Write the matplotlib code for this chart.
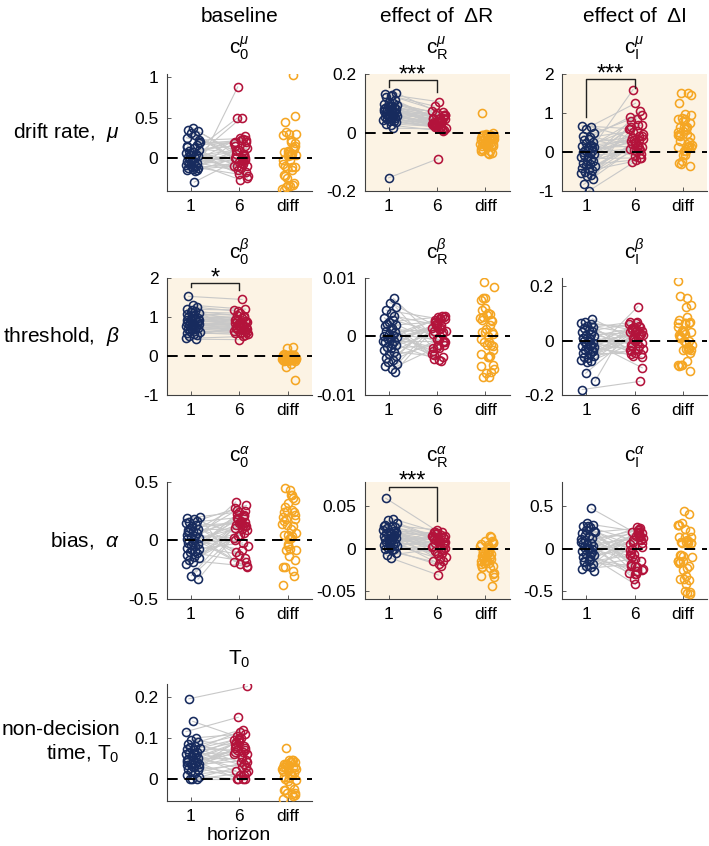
import numpy as np
import matplotlib.pyplot as plt

plt.rcParams["font.family"] = ["Liberation Sans", "DejaVu Sans"]
plt.rcParams["mathtext.fontset"] = "custom"
plt.rcParams["mathtext.rm"] = "Liberation Sans"
plt.rcParams["mathtext.it"] = "Liberation Sans:italic"
plt.rcParams["axes.unicode_minus"] = False

# ---- data: one value per participant, horizon 1 and horizon 6 ----
drift_base_h1 = [0.37, 0.35, 0.33, 0.31, 0.28, 0.25, 0.22, -0.02, 0.04, 0.16,
                 0.14, 0.12, 0.10, 0.09, 0.07, 0.06, 0.05, 0.03, 0.02, 0.01,
                 0.00, -0.01, 0.20, -0.04, -0.05, -0.06, -0.08, -0.09, -0.10, -0.11,
                 -0.12, -0.13, -0.14, -0.15, -0.15, -0.16, -0.05, 0.18, 0.15, -0.30]
drift_base_h6 = [-0.03, 0.00, 0.02, -0.05, -0.10, 0.10, 0.24, 0.50, 0.49, 0.20,
                 -0.20, 0.05, 0.15, -0.25, 0.22, -0.15, 0.27, 0.00, -0.08, 0.12,
                 0.08, -0.12, 0.18, 0.00, 0.25, -0.18, 0.05, -0.02, 0.10, -0.22,
                 0.20, -0.06, 0.15, 0.88, -0.10, 0.03, -0.27, 0.22, -0.10, 0.00]

drift_R_h1 = [0.135, 0.130, 0.128, 0.125, 0.120, 0.110, 0.105, 0.100, 0.098, 0.095,
              0.092, 0.090, 0.088, 0.085, 0.082, 0.080, 0.078, 0.075, 0.072, 0.070,
              0.068, 0.065, 0.062, 0.060, 0.058, 0.055, 0.052, 0.050, 0.048, 0.045,
              0.042, 0.040, 0.038, 0.035, 0.030, 0.025, 0.070, 0.080, 0.015, -0.155]
drift_R_h6 = [0.060, 0.090, 0.105, 0.070, 0.050, 0.040, 0.065, 0.060, 0.035, 0.050,
              0.045, 0.030, 0.055, 0.040, 0.020, 0.045, 0.060, 0.035, 0.025, 0.050,
              0.030, 0.040, 0.045, 0.020, 0.035, 0.030, 0.040, 0.025, 0.010, 0.030,
              0.035, 0.020, 0.015, 0.025, 0.020, 0.005, 0.060, 0.075, 0.012, -0.090]

drift_I_h1 = [0.67, 0.65, 0.60, 0.48, 0.42, 0.38, 0.33, 0.30, 0.25, 0.22,
              0.18, 0.15, 0.12, 0.10, 0.06, 0.03, 0.00, -0.02, -0.05, -0.08,
              -0.10, -0.13, -0.17, -0.20, -0.23, -0.27, -0.30, -0.33, -0.36, -0.40,
              -0.43, -0.47, -0.50, -0.55, -0.58, -0.62, -0.70, -0.83, -1.00, 0.10]
drift_I_h6 = [0.60, 0.30, 1.25, 0.95, 0.20, 0.55, 0.05, 0.90, 0.40, -0.10,
              0.70, 0.28, 0.15, 0.85, 0.35, -0.05, 0.25, 0.10, 0.60, 0.45,
              0.02, 0.30, -0.15, 0.65, 0.18, 0.12, 0.50, -0.20, 0.08, 1.05,
              0.22, 0.40, -0.25, 0.70, 0.05, 0.33, 0.80, 0.15, -0.15, 1.60]

thresh_base_h1 = [1.53, 1.30, 1.25, 1.20, 1.15, 1.12, 1.10, 1.08, 1.05, 1.03,
                  1.00, 0.98, 0.96, 0.95, 0.93, 0.92, 0.90, 0.88, 0.86, 0.85,
                  0.83, 0.82, 0.80, 0.78, 0.77, 0.75, 0.73, 0.72, 0.70, 0.68,
                  0.65, 0.62, 0.60, 0.57, 0.55, 0.52, 0.45, 0.43, 1.18, 0.88]
thresh_base_h6 = [1.45, 1.20, 1.15, 1.18, 1.02, 1.10, 0.90, 1.05, 0.98, 0.90,
                  0.92, 1.00, 0.85, 0.88, 0.95, 0.80, 0.82, 0.90, 0.75, 0.80,
                  0.78, 0.85, 0.70, 0.75, 0.80, 0.65, 0.72, 0.68, 0.62, 0.70,
                  0.60, 0.65, 0.55, 0.60, 0.75, 0.74, 0.50, 0.42, 0.56, 0.60]

thresh_R_h1 = [0.0065, 0.0058, 0.0050, 0.0045, 0.0040, 0.0035, 0.0032, 0.0028, 0.0025, 0.0020,
               0.0018, 0.0015, 0.0012, 0.0010, 0.0007, 0.0005, 0.0003, 0.0001, -0.0001, -0.0003,
               -0.0005, -0.0008, -0.0010, -0.0012, -0.0015, -0.0018, -0.0020, -0.0023, -0.0026, -0.0030,
               -0.0033, -0.0036, -0.0040, -0.0044, -0.0047, -0.0050, -0.0055, -0.0060, 0.0022, -0.0008]
thresh_R_h6 = [-0.0005, 0.0010, -0.0020, 0.0030, -0.0010, 0.0020, -0.0030, 0.0005, 0.0033, -0.0015,
               0.0025, -0.0040, 0.0008, -0.0025, 0.0015, -0.0005, 0.0035, -0.0032, 0.0012, -0.0020,
               0.0028, -0.0008, 0.0018, -0.0042, 0.0005, 0.0030, -0.0015, 0.0022, -0.0035, 0.0010,
               0.0032, -0.0010, 0.0025, -0.0005, 0.0015, 0.0035, -0.0018, 0.0033, -0.0038, 0.0020]

thresh_I_h1 = [0.080, 0.070, 0.065, 0.060, 0.055, 0.050, 0.045, 0.040, 0.035, 0.030,
               0.025, 0.020, 0.015, 0.010, 0.005, 0.000, -0.003, -0.008, -0.012, -0.015,
               -0.020, -0.025, -0.030, -0.035, -0.040, -0.045, -0.050, -0.055, -0.060, -0.065,
               -0.070, -0.075, -0.080, -0.040, 0.010, -0.020, -0.120, -0.150, -0.180, 0.000]
thresh_I_h6 = [-0.010, 0.040, -0.030, 0.050, 0.020, -0.040, 0.070, -0.050, 0.010, 0.060,
               -0.020, 0.030, -0.060, 0.045, -0.010, 0.020, -0.035, 0.055, 0.000, 0.035,
               -0.050, 0.010, 0.040, -0.020, 0.025, -0.045, 0.015, 0.030, -0.030, 0.065,
               0.005, 0.050, -0.015, 0.125, -0.100, -0.055, 0.035, 0.070, -0.150, 0.000]

bias_base_h1 = [0.20, 0.19, 0.18, 0.17, 0.16, 0.15, 0.13, 0.12, 0.10, 0.09,
                0.08, 0.06, 0.05, 0.04, 0.03, 0.02, 0.01, 0.00, -0.01, -0.02,
                -0.03, -0.04, -0.05, -0.06, -0.07, -0.08, -0.10, -0.11, -0.12, -0.14,
                -0.15, -0.17, -0.18, -0.20, -0.27, -0.30, -0.33, 0.07, -0.09, 0.11]
bias_base_h6 = [-0.18, 0.25, 0.05, 0.30, -0.10, 0.20, 0.15, -0.05, 0.28, 0.10,
                -0.15, 0.18, 0.02, 0.22, -0.20, 0.12, 0.26, -0.08, 0.16, 0.00,
                0.21, -0.12, 0.09, 0.33, -0.02, 0.14, 0.19, -0.18, 0.24, 0.06,
                0.11, -0.22, 0.17, 0.04, 0.12, 0.13, 0.12, -0.23, 0.23, 0.15]

bias_R_h1 = [0.059, 0.035, 0.033, 0.030, 0.028, 0.027, 0.025, 0.024, 0.022, 0.021,
             0.020, 0.019, 0.018, 0.017, 0.016, 0.015, 0.014, 0.013, 0.012, 0.011,
             0.010, 0.009, 0.008, 0.007, 0.006, 0.005, 0.004, 0.003, 0.002, 0.001,
             0.000, -0.001, -0.002, -0.005, -0.008, -0.011, 0.026, 0.015, 0.009, 0.018]
bias_R_h6 = [0.015, 0.020, 0.010, 0.015, -0.005, 0.022, 0.008, 0.012, 0.000, 0.018,
             -0.010, 0.015, 0.005, -0.015, 0.010, 0.002, 0.020, -0.008, 0.012, 0.006,
             -0.018, 0.014, 0.003, 0.016, -0.005, 0.008, 0.019, -0.012, 0.010, -0.003,
             0.004, 0.013, -0.020, -0.015, 0.001, -0.031, 0.017, -0.002, 0.011, 0.009]

bias_I_h1 = [0.47, 0.30, 0.28, 0.26, 0.25, 0.22, 0.20, 0.18, 0.15, 0.12,
             0.10, 0.08, 0.06, 0.05, 0.03, 0.02, 0.00, -0.01, -0.03, -0.05,
             -0.06, -0.08, -0.10, -0.12, -0.14, -0.16, -0.18, -0.20, -0.22, -0.24,
             -0.26, 0.27, 0.16, -0.04, 0.07, -0.09, 0.21, -0.15, 0.01, 0.11]
bias_I_h6 = [0.15, -0.20, 0.20, -0.25, 0.10, -0.30, 0.05, 0.24, -0.20, 0.18,
             -0.10, 0.22, -0.35, 0.12, -0.05, 0.25, -0.15, 0.08, -0.28, 0.16,
             -0.42, 0.02, 0.20, -0.22, 0.14, -0.08, 0.23, -0.12, 0.06, -0.18,
             0.18, -0.26, 0.00, 0.10, -0.30, 0.19, -0.02, -0.24, 0.15, -0.06]

ndt_h1 = [0.195, 0.140, 0.115, 0.100, 0.095, 0.090, 0.085, 0.080, 0.078, 0.075,
          0.072, 0.070, 0.065, 0.062, 0.060, 0.058, 0.055, 0.050, 0.048, 0.045,
          0.042, 0.040, 0.038, 0.036, 0.035, 0.033, 0.030, 0.028, 0.025, 0.022,
          0.020, 0.015, 0.010, 0.005, 0.000, 0.000, 0.000, 0.045, 0.060, 0.030]
ndt_h6 = [0.225, 0.100, 0.150, 0.110, 0.080, 0.120, 0.060, 0.105, 0.040, 0.095,
          0.070, 0.115, 0.030, 0.090, 0.065, 0.100, 0.020, 0.085, 0.050, 0.075,
          0.000, 0.060, 0.080, 0.010, 0.045, 0.070, 0.055, 0.000, 0.065, 0.035,
          0.095, 0.040, 0.020, 0.000, 0.030, 0.000, 0.015, 0.090, 0.010, 0.075]

x_labels = ["1", "6", "diff"]
col_headers = ["baseline", "effect of  \u0394R", "effect of  \u0394I"]
row_labels = [r"drift rate,  $\mu$", r"threshold,  $\beta$", r"bias,  $\alpha$",
              "non-decision\ntime, T$_\\mathregular{0}$"]

# horizontal jitter of the markers (fraction of a category step)
JITTER = [0.05, -0.05, 0.14, 0.00, 0.09, -0.09, 0.17, 0.03, -0.02, 0.12,
          -0.07, 0.07, 0.16, -0.04, 0.04, -0.10, 0.11, 0.01, 0.15, -0.06,
          0.08, -0.01, 0.18, -0.08, 0.06, 0.13, -0.03, -0.11, 0.10, 0.02,
          0.15, -0.05, 0.05, 0.12, -0.09, 0.09, 0.00, 0.16, -0.07, 0.07]

NAVY = "#172B5E"
RED = "#B3133B"
ORANGE = "#F5A623"
SHADE = "#FCF3E4"
GREY = "#C8C8C8"


def sup(sub, greek):
    return r"$\mathregular{c}_{\mathregular{%s}}^{\%s}$" % (sub, greek)


# (row, col, h1, h6, title, ylim, yticks, shaded, bracket=(top, left, right, stars))
PANELS = [
    (0, 0, drift_base_h1, drift_base_h6, sup("0", "mu"), (-0.41, 1.04), ([0, 0.5, 1], ["0", "0.5", "1"]), False, None),
    (0, 1, drift_R_h1, drift_R_h6, sup("R", "mu"), (-0.2, 0.2), ([-0.2, 0, 0.2], ["-0.2", "0", "0.2"]), True,
     (0.179, 0.156, 0.137, "***")),
    (0, 2, drift_I_h1, drift_I_h6, sup("I", "mu"), (-1, 2), ([-1, 0, 1, 2], ["-1", "0", "1", "2"]), True,
     (1.86, 0.89, 1.64, "***")),
    (1, 0, thresh_base_h1, thresh_base_h6, sup("0", "beta"), (-1, 2), ([-1, 0, 1, 2], ["-1", "0", "1", "2"]), True,
     (1.88, 1.77, 1.70, "*")),
    (1, 1, thresh_R_h1, thresh_R_h6, sup("R", "beta"), (-0.01, 0.01), ([-0.01, 0, 0.01], ["-0.01", "0", "0.01"]), False, None),
    (1, 2, thresh_I_h1, thresh_I_h6, sup("I", "beta"), (-0.2, 0.23), ([-0.2, 0, 0.2], ["-0.2", "0", "0.2"]), False, None),
    (2, 0, bias_base_h1, bias_base_h6, sup("0", "alpha"), (-0.5, 0.5), ([-0.5, 0, 0.5], ["-0.5", "0", "0.5"]), False, None),
    (2, 1, bias_R_h1, bias_R_h6, sup("R", "alpha"), (-0.059, 0.078), ([-0.05, 0, 0.05], ["-0.05", "0", "0.05"]), True,
     (0.0727, 0.0687, 0.0327, "***")),
    (2, 2, bias_I_h1, bias_I_h6, sup("I", "alpha"), (-0.59, 0.78), ([-0.5, 0, 0.5], ["-0.5", "0", "0.5"]), False, None),
    (3, 0, ndt_h1, ndt_h6, r"T$_\mathregular{0}$", (-0.054, 0.231), ([0, 0.1, 0.2], ["0", "0.1", "0.2"]), False, None),
]

W, H = 709, 846
COL_LEFT = [166.7, 364.5, 562.0]
ROW_TOP = [74.0, 278.0, 482.0, 684.0]
AX_W, AX_H = 145.0, 117.0


def draw_panel(fig, k, row, col, h1, h6, title, ylim, yticks, shaded, bracket):
    left = COL_LEFT[col] / W
    bottom = 1 - (ROW_TOP[row] + AX_H) / H
    ax = fig.add_axes([left, bottom, AX_W / W, AX_H / H])

    h1 = np.asarray(h1)
    h6 = np.asarray(h6)
    diff = h6 - h1
    x1 = 1 + np.roll(JITTER, 3 * k)
    x6 = 2 + np.roll(JITTER, 3 * k + 7)
    xd = 3 + np.roll(JITTER, 3 * k + 17)

    for a, b, c, d in zip(x1, x6, h1, h6):
        ax.plot([a, b], [c, d], color=GREY, lw=0.8, zorder=1)
    marker = dict(ls="none", marker="o", mfc="none", ms=5.8, mew=1.15, zorder=3)
    ax.plot(x1, h1, mec=NAVY, **marker)
    ax.plot(x6, h6, mec=RED, **marker)
    ax.plot(xd, diff, mec=ORANGE, **marker)
    ax.axhline(0, color="k", lw=1.4, ls=(0, (5.5, 3.5)), zorder=4)

    if bracket is not None:
        top, yl, yr, stars = bracket
        ax.plot([1, 1, 2, 2], [yl, top, top, yr], color="#222222", lw=1.0,
                zorder=5, clip_on=False)
        ax.annotate(stars, (1.5, top), xytext=(0, -1), textcoords="offset points",
                    ha="center", va="baseline", fontsize=17, clip_on=False)

    ax.set_xlim(0.5, 3.5)
    ax.set_ylim(*ylim)
    ax.set_xticks([1, 2, 3])
    ax.set_xticklabels(x_labels)
    ax.set_yticks(yticks[0])
    ax.set_yticklabels(yticks[1])
    ax.set_facecolor(SHADE if shaded else "white")
    for side in ("top", "right"):
        ax.spines[side].set_visible(False)
    for side in ("left", "bottom"):
        ax.spines[side].set_color("#404040")
        ax.spines[side].set_linewidth(0.8)
    ax.tick_params(direction="in", length=3, width=0.6, color="#404040",
                   labelsize=12.5, pad=6)
    ax.set_title(title, fontsize=15, pad=14)
    return ax


def main():
    fig = plt.figure(figsize=(W / 100, H / 100), dpi=100)
    for k, spec in enumerate(PANELS):
        ax = draw_panel(fig, k, *spec)
        if spec[0] == 3:
            ax.set_xlabel("horizon", fontsize=14, labelpad=2)

    for col, text in enumerate(col_headers):
        xc = (COL_LEFT[col] + AX_W / 2) / W
        fig.text(xc, 1 - 16 / H, text, ha="center", va="center", fontsize=15)
    for row, text in enumerate(row_labels):
        yc = 1 - (ROW_TOP[row] + AX_H / 2) / H
        fig.text(120 / W, yc, text, ha="right", va="center", fontsize=15,
                 multialignment="right")

    fig.savefig("out.png", dpi=100)


if __name__ == "__main__":
    main()
